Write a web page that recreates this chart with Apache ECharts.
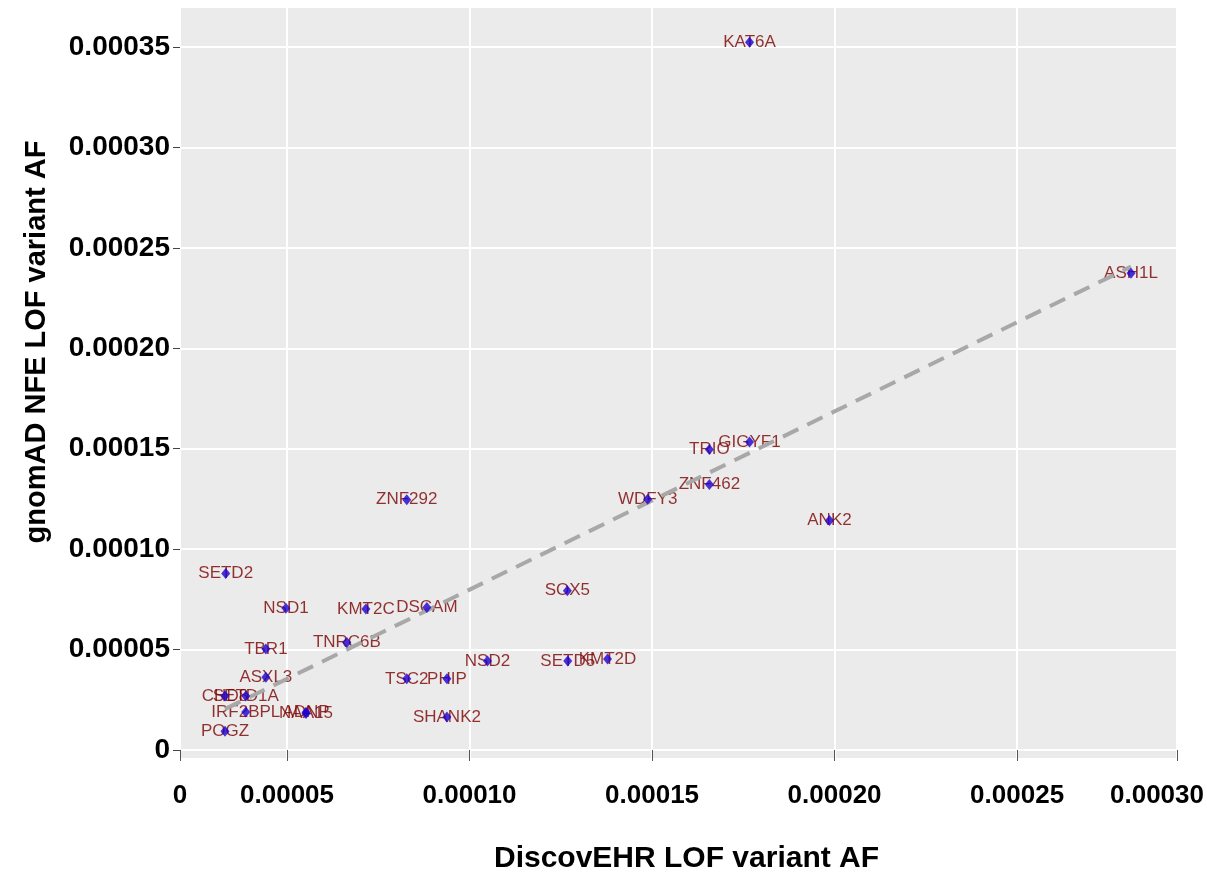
<!DOCTYPE html>
<html><head><meta charset="utf-8">
<script src="https://cdn.jsdelivr.net/npm/echarts@6/dist/echarts.min.js"></script>
<style>html,body{margin:0;padding:0;background:#fff}#c{width:1207px;height:879px}</style>
</head><body><div id="c"></div>
<script>
// ---- data ----
const genes = ['KAT6A','ASH1L','GIGYF1','TRIO','ZNF462','WDFY3','ANK2','ZNF292','SETD2','SOX5',
  'NSD1','KMT2C','DSCAM','TNRC6B','TBR1','NSD2','SETD5','KMT2D','ASXL3','TSC2',
  'PHIP','CHD8','SETD1A','IRF2BPL','ADNP','NAA15','SHANK2','POGZ'];
const discovehrAF = [0.0001767,0.0002812,0.0001767,0.0001657,0.0001657,0.0001488,0.0001986,0.0000828,0.0000332,0.0001268,
  0.0000497,0.0000716,0.0000883,0.0000664,0.0000442,0.0001049,0.0001269,0.0001378,0.0000442,0.0000828,
  0.0000938,0.0000330,0.0000387,0.0000387,0.0000552,0.0000552,0.0000938,0.0000330];
const gnomadAF = [0.0003524,0.0002373,0.0001533,0.0001496,0.0001322,0.0001248,0.0001143,0.0001246,0.0000879,0.0000793,
  0.0000705,0.0000702,0.0000709,0.0000535,0.0000503,0.0000443,0.0000443,0.0000453,0.0000362,0.0000354,
  0.0000354,0.0000269,0.0000269,0.0000189,0.0000188,0.0000182,0.0000164,0.0000093];
const xTickLabels = ['0','0.00005','0.00010','0.00015','0.00020','0.00025','0.00030'];
const yTickLabels = ['0','0.00005','0.00010','0.00015','0.00020','0.00025','0.00030','0.00035'];
const yTickValues = [0,0.00005,0.0001,0.00015,0.0002,0.00025,0.0003,0.00035];

// ---- axis extents (panel edges) ----
const X_MIN = 0.00002068, X_MAX = 0.0002938;
const Y_MIN = -0.0000040, Y_MAX = 0.0003694;
const xTickValues = [X_MIN,0.00005,0.0001,0.00015,0.0002,0.00025,X_MAX];

// ---- least squares fit ----
const n = discovehrAF.length;
const mx = discovehrAF.reduce((a,b)=>a+b,0)/n, my = gnomadAF.reduce((a,b)=>a+b,0)/n;
let sxy=0,sxx=0;
for(let i=0;i<n;i++){sxy+=(discovehrAF[i]-mx)*(gnomadAF[i]-my);sxx+=(discovehrAF[i]-mx)**2;}
const slope=sxy/sxx, icpt=my-slope*mx;
const x0=Math.min(...discovehrAF), x1=Math.max(...discovehrAF);
const fitLine=[[x0,icpt+slope*x0],[x1,icpt+slope*x1]];

const pts = genes.map((g,i)=>[discovehrAF[i],gnomadAF[i],g]);
const FONT = 'Liberation Sans, Arial, Helvetica, sans-serif';

const chart = echarts.init(document.getElementById('c'),null,{renderer:'canvas'});
chart.setOption({
  animation:false,
  backgroundColor:'#ffffff',
  grid:{left:180,right:30,top:8,bottom:117,show:true,backgroundColor:'#EBEBEB',borderWidth:0},
  xAxis:{type:'value',min:X_MIN,max:X_MAX,
    name:'DiscovEHR LOF variant AF',nameLocation:'middle',nameGap:86,
    nameTextStyle:{fontFamily:FONT,fontWeight:'bold',fontSize:30,color:'#000',padding:[0,0,0,16]},
    axisLine:{show:false},
    axisTick:{show:true,length:11,lineStyle:{color:'#555',width:1},customValues:xTickValues},
    axisLabel:{fontFamily:FONT,fontWeight:'bold',fontSize:26,color:'#000',margin:25,
      customValues:xTickValues,
      formatter:(v)=>{const i=xTickValues.indexOf(v);const t=i>=0?xTickLabels[i]:'';return i===xTickValues.length-1?'{r|'+t+'}':t;},
      rich:{r:{fontFamily:FONT,fontWeight:'bold',fontSize:26,color:'#000',padding:[0,40,0,0]}}},
    splitLine:{show:true,lineStyle:{color:'#ffffff',width:2}}
  },
  yAxis:{type:'value',min:Y_MIN,max:Y_MAX,
    axisLine:{show:false},
    axisTick:{show:true,length:7,lineStyle:{color:'#444',width:1},customValues:yTickValues},
    axisLabel:{fontFamily:FONT,fontWeight:'bold',fontSize:28,color:'#000',margin:10,
      customValues:yTickValues,
      formatter:(v)=>{const i=yTickValues.findIndex(t=>Math.abs(t-v)<1e-9);return i>=0?yTickLabels[i]:'';}},
    splitLine:{show:true,lineStyle:{color:'#ffffff',width:2}}
  },
  graphic:[{type:'text',x:37,y:342,rotation:Math.PI/2,
    style:{text:'gnomAD NFE LOF variant AF',fontFamily:FONT,fontWeight:'bold',fontSize:29,fill:'#000',align:'center',verticalAlign:'middle'}}],
  series:[
    {type:'scatter',name:'labels',data:pts,symbolSize:1,z:2,
      itemStyle:{color:'transparent'},
      label:{show:true,position:'inside',formatter:p=>p.data[2],color:'#7A0000',fontFamily:FONT,fontSize:17}},
    {type:'line',name:'fit',data:fitLine,showSymbol:false,symbol:'none',z:3,
      lineStyle:{color:'#A8A8A8',width:4,type:[17,10]}},
    {type:'scatter',name:'points',data:pts,symbol:'diamond',symbolSize:[9,11],z:4,
      itemStyle:{color:'#1E00D0'}}
  ]
});
</script></body></html>
